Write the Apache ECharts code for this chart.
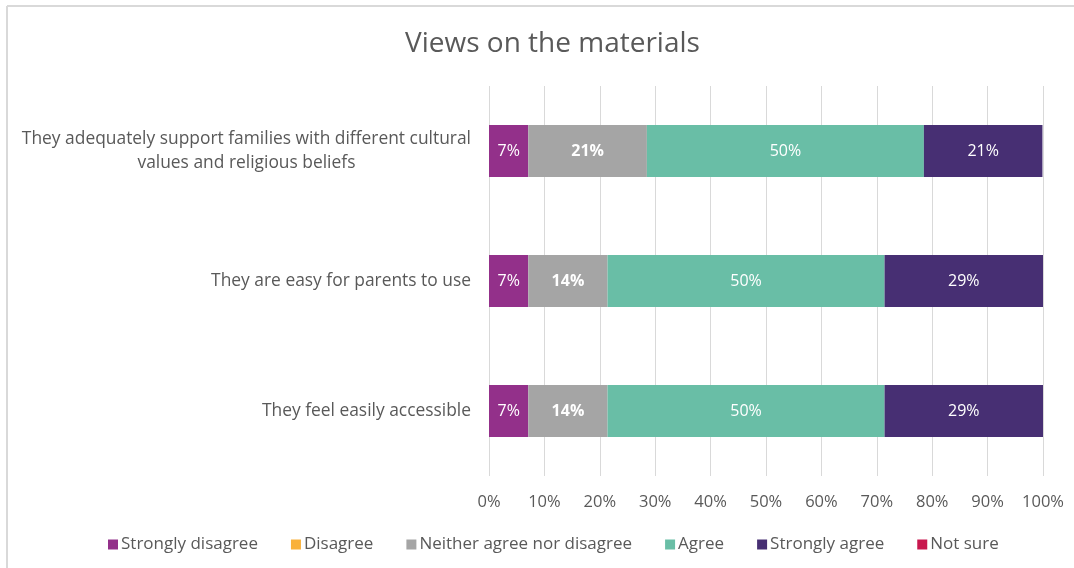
<!DOCTYPE html>
<html>
<head>
<meta charset="utf-8">
<script src="https://cdn.jsdelivr.net/npm/echarts@6/dist/echarts.min.js"></script>
<style>
html,body{margin:0;padding:0;background:#fff;}
#chart{width:1074px;height:568px;}
</style>
</head>
<body>
<div id="chart"></div>
<script>
const categories = [
  "They adequately support families with different cultural\nvalues and religious beliefs",
  "They are easy for parents to use",
  "They feel easily accessible"
];
const seriesNames = ["Strongly disagree","Disagree","Neither agree nor disagree","Agree","Strongly agree","Not sure"];
const stronglyDisagree = [7.1, 7.1, 7.1];
const disagree = [0, 0, 0];
const neither = [21.4, 14.3, 14.3];
const agree = [50.0, 50.0, 50.0];
const stronglyAgree = [21.4, 28.6, 28.6];
const notSure = [0, 0, 0];
const xTicks = [0,10,20,30,40,50,60,70,80,90,100];

const colors = ["#93308A","#F9B13A","#A5A5A5","#69BEA6","#472F73","#C8174E"];
const values = [stronglyDisagree, disagree, neither, agree, stronglyAgree, notSure];
const FONT = "'Open Sans', Lato, sans-serif";
const TXT = "#595959";

const chart = echarts.init(document.getElementById('chart'));
const series = seriesNames.map((n,i)=>({
  name:n, type:'bar', stack:'total', barWidth:'40%',
  itemStyle:{color:colors[i]},
  label:{
    show:true, position:'inside', color:'#fff',
    fontFamily:FONT, fontSize:16,
    fontWeight: i===2 ? 'bold' : 'normal',
    formatter: p => p.value > 0 ? Math.round(p.value) + '%' : ''
  },
  data: values[i]
}));

chart.setOption({
  animation:false,
  textStyle:{fontFamily:FONT},
  title:{text:'Views on the materials', left:400, top:25,
    textStyle:{fontFamily:FONT, fontSize:28, fontWeight:'normal', color:TXT}},
  grid:{left:489, right:31, top:86, bottom:92, containLabel:false},
  legend:{bottom:10, left:103, itemWidth:10, itemHeight:10, itemGap:33,
    icon:'rect',
    textStyle:{fontFamily:FONT, fontSize:17, color:TXT, padding:[0,0,0,-2]},
    data:seriesNames},
  xAxis:{type:'value', min:0, max:100, interval:10,
    axisLine:{show:false}, axisTick:{show:false},
    splitLine:{lineStyle:{color:'#d9d9d9', width:1}},
    axisLabel:{formatter: v => xTicks.includes(v) ? v + '%' : '', color:TXT, fontSize:16.5, fontFamily:FONT, margin:18}},
  yAxis:{type:'category', inverse:true, data:categories,
    axisLine:{show:false}, axisTick:{show:false},
    axisLabel:{color:TXT, fontSize:17.4, fontFamily:FONT, margin:18, lineHeight:24,
      formatter: v => v.split('\n').map(s=>'{c|'+s+'}').join('\n'),
      rich:{c:{align:'center', color:TXT, fontSize:17.4, fontFamily:FONT, lineHeight:24}}}},
  graphic:[
    {type:'line', shape:{x1:7,y1:6,x2:1074,y2:6}, style:{stroke:'#d9d9d9', lineWidth:2}, silent:true},
    {type:'line', shape:{x1:7,y1:6,x2:7,y2:568}, style:{stroke:'#d9d9d9', lineWidth:2}, silent:true}
  ],
  series: series
});
</script>
</body>
</html>
